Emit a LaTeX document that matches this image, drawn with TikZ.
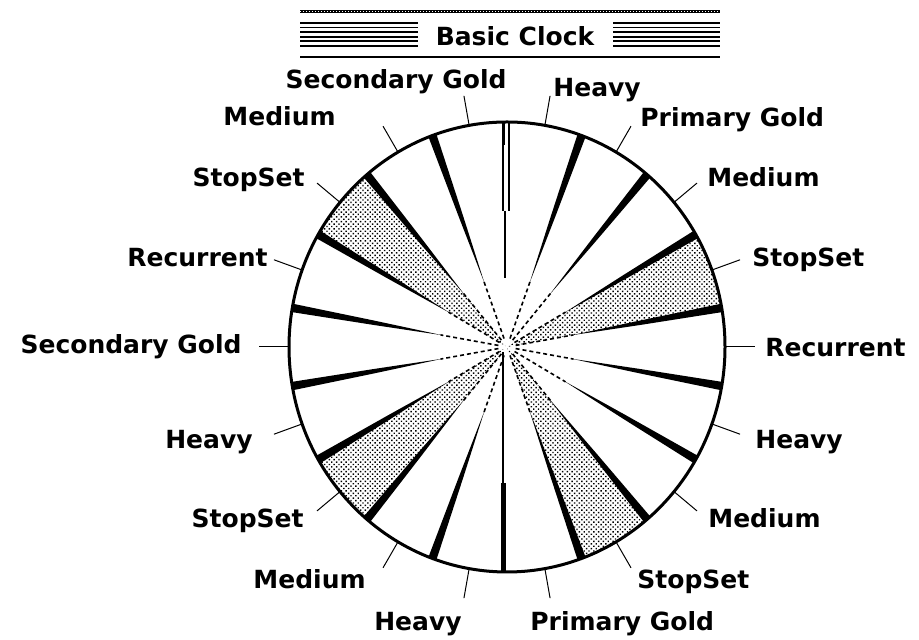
\documentclass[tikz,border=0pt]{standalone}
\usepackage{fontspec}
\setmainfont{DejaVu Sans}
\usetikzlibrary{calc,patterns.meta}
\tikzset{
  rim/.style={draw=black, line width=1.5pt},
  spk/.style={fill=black},
  spkdash/.style={draw=black, line width=0.8pt, dash pattern=on 2pt off 1.5pt},
  wedge/.style={pattern={Dots[distance=1.7pt, radius=0.5pt, angle=45]}},
  tick/.style={draw=black, line width=0.5pt},
  lbl/.style={font=\fontsize{12.5}{14}\selectfont\bfseries, inner sep=0pt, anchor=base west},
  lblw/.style={lbl, anchor=base east},
  ttl/.style={font=\fontsize{12.5}{14}\selectfont\bfseries, inner sep=0pt},
  stripe/.style={draw=black, line width=0.9pt},
}
\begin{document}
\begin{tikzpicture}[x=0.5pt,y=0.5pt]
  \fill[white] (0,0) rectangle (919,640);
  \useasboundingbox (0,0) rectangle (919,640);
  % title bar
  \node[ttl] (title) at (515,604) {Basic Clock};
  \draw[line width=1.5pt] (300,628) -- (720,628);
  \draw[line width=0.5pt, white, dash pattern=on 0.5pt off 1pt] (300,628) -- (720,628);
  \foreach \y in {0,...,5}{
    \draw[stripe] (300,617-4.6*\y) -- (418,617-4.6*\y);
    \draw[stripe] (613,617-4.6*\y) -- (720,617-4.6*\y);
  }
  \draw[line width=1pt] (300,583) -- (720,583);
  % clock face
  \begin{scope}[shift={(507,293)}]
    \coordinate (c) at (0,0);
    \foreach \a in {30,-50,-130,150}{
      \fill[wedge] (c) -- (\a:218 and 225) arc[start angle=\a, delta angle=-20, x radius=218, y radius=225] -- cycle;
    }
    \foreach \a [count=\i] in {70,50,30,10,-10,-30,-50,-70,-110,-130,-150,-170,170,150,130,110}{
      \coordinate (s\i) at (\a:218 and 225);
      \coordinate (h\i) at ($(c)!0.62!(s\i)$);
      \fill[spk] ($(c)!0.3!(s\i)$) -- ($(h\i)!1.1pt!90:(s\i)$) -- ($(s\i)!2.1pt!-90:(c)$)
        -- ($(s\i)!2.1pt!90:(c)$) -- ($(h\i)!1.1pt!-90:(s\i)$) -- cycle;
      \draw[spkdash] ($(c)!0.04!(s\i)$) -- ($(c)!0.31!(s\i)$);
    }
    % start mark at twelve
    \draw[line width=1.5pt] (-4,225) -- (-4,202);
    \draw[line width=0.8pt] (-4,225) -- (-4,136);
    \draw[line width=0.8pt] (2,225) -- (2,136);
    \draw[line width=0.8pt] (-2,136) -- (-2,69);
    % hand at six
    \draw[line width=2.5pt] (-4,-225) -- (-4,-136);
    \draw[line width=1.1pt] (-4,-136) -- (-4,-5);
    \draw[rim] (c) ellipse[x radius=218, y radius=225];
    \foreach \a [count=\i] in {80,60,40,20,0,-20,-40,-60,-80,-100,-120,-140,-160,180,160,140,120,100}{
      \coordinate (m\i) at (\a:218 and 225);
      \coordinate (n\i) at (\a:248 and 255);
      \draw[tick] (m\i) -- (n\i);
    }
  \end{scope}
  % labels, clockwise from twelve
  \node[lbl] (hv1) at (553,543) {Heavy};
  \node[lbl] (pg1) at (640,513) {Primary Gold};
  \node[lbl] (md1) at (707,453) {Medium};
  \node[lbl] (ss1) at (752,373) {StopSet};
  \node[lbl] (rc1) at (765,283) {Recurrent};
  \node[lbl] (hv2) at (755,191) {Heavy};
  \node[lbl] (md2) at (708,112) {Medium};
  \node[lbl] (ss2) at (637,51) {StopSet};
  \node[lbl] (pg2) at (530,9) {Primary Gold};
  \node[lblw] (hv3) at (462,9) {Heavy};
  \node[lblw] (md3) at (366,51) {Medium};
  \node[lblw] (ss3) at (304,112) {StopSet};
  \node[lblw] (hv4) at (253,191) {Heavy};
  \node[lblw] (sg1) at (242,286) {Secondary Gold};
  \node[lblw] (rc2) at (268,373) {Recurrent};
  \node[lblw] (ss4) at (305,453) {StopSet};
  \node[lblw] (md4) at (336,514) {Medium};
  \node[lblw] (sg2) at (507,551) {Secondary Gold};
\end{tikzpicture}
\end{document}
